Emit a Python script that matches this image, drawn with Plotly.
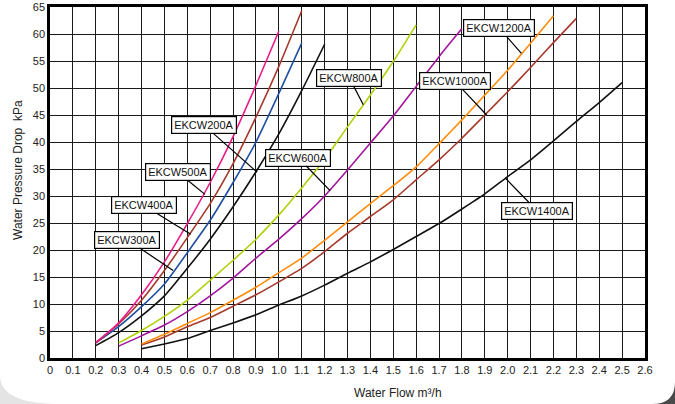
import plotly.graph_objects as go

# ---------------- data ----------------
flow_200 = [0.2, 0.3, 0.4, 0.5, 0.6, 0.7, 0.8, 0.9, 1.0, 1.1, 1.2]
dp_200 = [2.3, 4.7, 7.8, 11.5, 16.6, 22.0, 28.0, 34.5, 41.5, 49.5, 58.1]

flow_300 = [0.2, 0.3, 0.4, 0.5, 0.6, 0.7, 0.8, 0.9, 1.0, 1.1]
dp_300 = [2.8, 5.8, 9.5, 13.7, 19.5, 25.5, 32.5, 40.0, 49.0, 58.3]

flow_400 = [0.2, 0.3, 0.4, 0.5, 0.6, 0.7, 0.8, 0.9, 1.0, 1.1]
dp_400 = [2.9, 6.3, 10.7, 16.2, 22.3, 28.6, 36.0, 44.6, 54.0, 64.3]

flow_500 = [0.2, 0.3, 0.4, 0.5, 0.6, 0.7, 0.8, 0.9, 1.0]
dp_500 = [2.8, 6.5, 11.7, 17.8, 24.9, 32.5, 41.0, 50.5, 60.5]

flow_600 = [0.3, 0.4, 0.5, 0.6, 0.7, 0.8, 0.9, 1.0, 1.1, 1.2, 1.3, 1.4, 1.5, 1.6, 1.7, 1.8]
dp_600 = [2.2, 4.1, 6.1, 8.6, 11.5, 14.8, 18.5, 22.0, 25.8, 30.0, 34.8, 39.8, 44.8, 50.3, 55.8, 61.0]

flow_800 = [0.3, 0.4, 0.5, 0.6, 0.7, 0.8, 0.9, 1.0, 1.1, 1.2, 1.3, 1.4, 1.5, 1.6]
dp_800 = [2.8, 5.1, 7.7, 10.7, 14.4, 18.1, 22.0, 26.5, 31.5, 36.8, 42.8, 48.7, 54.9, 61.7]

flow_1000 = [0.4, 0.5, 0.6, 0.7, 0.8, 0.9, 1.0, 1.1, 1.2, 1.3, 1.4, 1.5, 1.6, 1.7, 1.8, 1.9, 2.0, 2.1, 2.2, 2.3]
dp_1000 = [2.4, 3.9, 5.8, 7.5, 9.6, 11.7, 14.1, 16.6, 19.7, 23.1, 26.2, 29.3, 33.0, 36.7, 40.7, 45.0, 49.3, 53.8, 58.4, 62.9]

flow_1200 = [0.4, 0.5, 0.6, 0.7, 0.8, 0.9, 1.0, 1.1, 1.2, 1.3, 1.4, 1.5, 1.6, 1.7, 1.8, 1.9, 2.0, 2.1, 2.2]
dp_1200 = [2.6, 4.4, 6.4, 8.4, 10.7, 13.1, 15.8, 18.5, 21.8, 25.2, 28.6, 31.9, 35.4, 39.7, 44.1, 48.7, 53.3, 58.3, 63.4]

flow_1400 = [0.4, 0.5, 0.6, 0.7, 0.8, 0.9, 1.0, 1.1, 1.2, 1.3, 1.4, 1.5, 1.6, 1.7, 1.8, 1.9, 2.0, 2.1, 2.2, 2.3, 2.4, 2.5]
dp_1400 = [1.7, 2.6, 3.6, 5.1, 6.5, 8.0, 9.8, 11.5, 13.5, 15.7, 17.8, 20.1, 22.5, 24.9, 27.6, 30.4, 33.6, 36.7, 40.2, 43.8, 47.3, 51.0]

models = ["EKCW200A", "EKCW300A", "EKCW400A", "EKCW500A", "EKCW600A",
          "EKCW800A", "EKCW1000A", "EKCW1200A", "EKCW1400A"]

x_tick_vals = [0, 0.1, 0.2, 0.3, 0.4, 0.5, 0.6, 0.7, 0.8, 0.9, 1.0, 1.1, 1.2, 1.3,
               1.4, 1.5, 1.6, 1.7, 1.8, 1.9, 2.0, 2.1, 2.2, 2.3, 2.4, 2.5, 2.6]
x_tick_text = ["0", "0.1", "0.2", "0.3", "0.4", "0.5", "0.6", "0.7", "0.8", "0.9",
               "1.0", "1.1", "1.2", "1.3", "1.4", "1.5", "1.6", "1.7", "1.8", "1.9",
               "2.0", "2.1", "2.2", "2.3", "2.4", "2.5", "2.6"]
y_tick_vals = [0, 5, 10, 15, 20, 25, 30, 35, 40, 45, 50, 55, 60, 65]

# label callouts: point on curve (data) the callout refers to
label_x = [0.905, 0.538, 0.615, 0.677, 1.224, 1.369, 1.908, 2.06, 1.99]
label_y = [34.4, 16.2, 22.9, 30.3, 31.0, 46.9, 45.0, 56.4, 33.3]

# ---------------- figure ----------------
series = [
    (flow_200, dp_200, "#111111"),
    (flow_300, dp_300, "#1f4fa3"),
    (flow_400, dp_400, "#a63a2c"),
    (flow_500, dp_500, "#ec1a86"),
    (flow_600, dp_600, "#a3159c"),
    (flow_800, dp_800, "#aed10a"),
    (flow_1000, dp_1000, "#a63a2c"),
    (flow_1200, dp_1200, "#ff8c0a"),
    (flow_1400, dp_1400, "#111111"),
]

fig = go.Figure()
for (fx, fy, col), name in zip(series, models):
    fig.add_trace(go.Scatter(x=fx, y=fy, mode="lines", name=name,
                             line=dict(color=col, width=1.6, shape="spline", smoothing=0.6),
                             showlegend=False, hoverinfo="x+y+name"))

FONT = "Liberation Sans, Arial, sans-serif"

# callout offsets (pixels) from curve point to label box centre
offsets = [(-53, -47), (-46, -31), (-47, -29), (-27, -22), (-32, -33),
           (-14, -27), (-32, -34), (-22, -25), (32, 33)]
for name, lx, ly, (ax, ay) in zip(models, label_x, label_y, offsets):
    fig.add_annotation(x=lx, y=ly, text=name, showarrow=True, arrowhead=0,
                       arrowwidth=1.2, arrowcolor="#000", ax=ax, ay=ay,
                       bgcolor="white", bordercolor="#000", borderwidth=1.2,
                       borderpad=2, font=dict(family=FONT, size=11, color="#111"))

# axis titles
L, R, T, B = 50, 30, 7, 46
W, H = 675, 404
pw, ph = W - L - R, H - T - B


def px_to_paper(px, py):
    return (px - L) / pw, (H - B - py) / ph


tx, ty = px_to_paper(398, 393)
fig.add_annotation(x=tx, y=ty, xref="paper", yref="paper", text="Water Flow m³/h",
                   xanchor="center", yanchor="middle",
                   showarrow=False, font=dict(family=FONT, size=12, color="#222"))
tx, ty = px_to_paper(18, 170)
fig.add_annotation(x=tx, y=ty, xref="paper", yref="paper", text="Water Pressure Drop  kPa",
                   xanchor="center", yanchor="middle",
                   showarrow=False, textangle=-90, font=dict(family=FONT, size=12, color="#222"))

# decorative page corners
x0, y0 = px_to_paper(652, 404)
x1, y1 = px_to_paper(675, 382)
fig.add_shape(type="path", xref="paper", yref="paper", layer="below",
              path=f"M {x1} {y1} Q {x1} {y0} {x0} {y0} L {x1} {y0} Z",
              fillcolor="#4a4a4a", line=dict(width=0))
bx0, by0 = px_to_paper(0, 404)
bx1, by1 = px_to_paper(60, 375)
fig.add_shape(type="path", xref="paper", yref="paper", layer="below",
              path=f"M {bx0} {by1} Q {bx0} {by0} {bx1} {by0} L {bx0} {by0} Z",
              fillcolor="#e4e4e4", line=dict(width=0))

fig.update_layout(
    width=W, height=H,
    margin=dict(l=L, r=R, t=T, b=B, autoexpand=False),
    paper_bgcolor="white", plot_bgcolor="white",
    font=dict(family=FONT, size=11, color="#222"),
    xaxis=dict(range=[0, 2.6], tickmode="array", tickvals=x_tick_vals, ticktext=x_tick_text,
               showgrid=True, gridcolor="#1a1a1a", gridwidth=1.3, zeroline=False,
               showline=True, linecolor="#000", linewidth=2.5, mirror=True,
               ticks="", tickfont=dict(size=11, color="#222"), automargin=False),
    yaxis=dict(range=[0, 65], tickmode="array", tickvals=y_tick_vals,
               showgrid=True, gridcolor="#1a1a1a", gridwidth=1.3, zeroline=False,
               showline=True, linecolor="#000", linewidth=2.5, mirror=True,
               ticks="", tickfont=dict(size=11, color="#222"), automargin=False),
)

fig.write_html("out.html", config={"displayModeBar": False},
               post_script="document.body.style.margin='0';")
